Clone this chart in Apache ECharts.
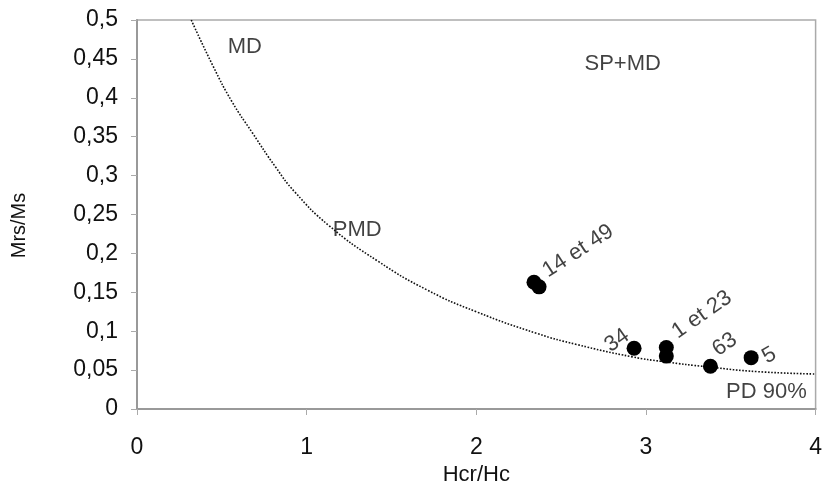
<!DOCTYPE html>
<html>
<head>
<meta charset="utf-8">
<script src="https://cdn.jsdelivr.net/npm/echarts@6/dist/echarts.min.js"></script>
<style>
html,body{margin:0;padding:0;background:#fff;}
#chart{width:825px;height:491px;}
</style>
</head>
<body>
<div id="chart"></div>
<script>
// Sample points (Hcr/Hc, Mrs/Ms)
var pointX = [2.34, 2.37, 2.93, 3.12, 3.12, 3.38, 3.62];
var pointY = [0.163, 0.157, 0.078, 0.079, 0.068, 0.055, 0.066];

// Mixing curve
var curveX = [0.32, 0.45, 0.56, 0.68, 0.82, 0.93, 1.13, 1.42, 1.71, 2.0, 2.36, 2.59, 2.92, 3.1, 3.37, 3.66, 4.0];
var curveY = [0.5, 0.44, 0.395, 0.355, 0.31, 0.279, 0.236, 0.19, 0.153, 0.125, 0.097, 0.083, 0.067, 0.061, 0.054, 0.048, 0.045];

// Text annotations: label, x, y (data units), rotation
var noteText = ['MD', 'SP+MD', 'PMD', 'PD 90%', '14 et 49', '34', '1 et 23', '63', '5'];
var noteX = [0.636, 2.863, 1.298, 3.71, 2.60, 2.83, 3.33, 3.465, 3.727];
var noteY = [0.465, 0.443, 0.230, 0.022, 0.203, 0.088, 0.121, 0.083, 0.069];
var noteRot = [0, 0, 0, 0, 33, 35, 35, 35, 30];

var yTicks = {min: 0, max: 0.5, interval: 0.05};
var xTicks = {min: 0, max: 4, interval: 1};

var FONT = '"Liberation Sans", Arial, sans-serif';
var TXT = '#111';

var curveData = curveX.map(function (x, i) { return [x, curveY[i]]; });
var pointData = pointX.map(function (x, i) { return [x, pointY[i]]; });
var noteData = noteText.map(function (t, i) {
  return {name: t, value: [noteX[i], noteY[i]], label: {rotate: noteRot[i]}};
});

var chart = echarts.init(document.getElementById('chart'));
chart.setOption({
  animation: false,
  backgroundColor: '#fff',
  grid: {left: 137, right: 4, top: 20, bottom: 79, show: true, borderColor: '#aaa', borderWidth: 1.5, backgroundColor: 'transparent'},
  xAxis: {
    type: 'value', min: xTicks.min, max: xTicks.max, interval: xTicks.interval,
    name: 'Hcr/Hc', nameLocation: 'middle', nameGap: 55,
    nameTextStyle: {fontFamily: FONT, fontSize: 22, color: TXT},
    axisLine: {show: true, lineStyle: {color: '#999', width: 2}},
    axisTick: {show: true, length: 6, lineStyle: {color: '#aaa'}},
    splitLine: {show: false},
    axisLabel: {fontFamily: FONT, fontSize: 23, color: TXT, margin: 27}
  },
  yAxis: {
    type: 'value', min: yTicks.min, max: yTicks.max, interval: yTicks.interval,
    name: 'Mrs/Ms', nameLocation: 'middle', nameGap: 108, nameRotate: 90,
    nameTextStyle: {fontFamily: FONT, fontSize: 20, color: TXT, padding: [0, 22, 0, 0]},
    axisLine: {show: true, lineStyle: {color: '#999', width: 2}},
    axisTick: {show: true, length: 6, lineStyle: {color: '#aaa'}},
    splitLine: {show: false},
    axisLabel: {fontFamily: FONT, fontSize: 23, color: TXT, margin: 19,
      formatter: function (v) { return String(+v.toFixed(2)).replace('.', ','); }}
  },
  series: [
    {
      type: 'line', data: curveData, smooth: true, showSymbol: false,
      lineStyle: {type: 'dotted', color: '#111', width: 1.6}, z: 2
    },
    {
      type: 'scatter', data: pointData, symbol: 'circle', symbolSize: 15,
      itemStyle: {color: '#000', opacity: 1}, z: 4
    },
    {
      type: 'scatter', data: noteData, symbolSize: 1,
      itemStyle: {color: 'rgba(0,0,0,0)'},
      label: {show: true, position: 'inside', formatter: '{b}',
        fontFamily: FONT, fontSize: 22, color: TXT},
      z: 5, silent: true
    }
  ]
});
</script>
</body>
</html>
